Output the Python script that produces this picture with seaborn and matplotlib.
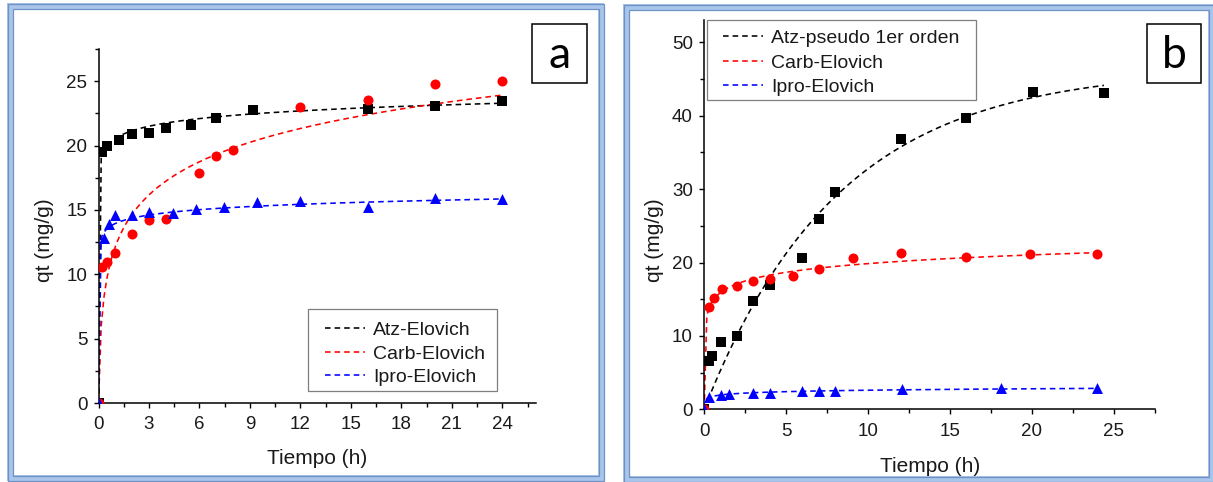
import numpy as np
import pandas as pd
import matplotlib
matplotlib.use("Agg")
import matplotlib.pyplot as plt
import seaborn as sns
from matplotlib.patches import Rectangle
from matplotlib.ticker import MultipleLocator

# ---------------- Panel a: measured adsorption (qt, mg/g) vs time (h) ----------------
a_atz_t = [0, 0.2, 0.5, 1.2, 2.0, 3.0, 4.0, 5.5, 7.0, 9.2, 16.0, 20.0, 24.0]
a_atz_q = [0, 19.5, 20.0, 20.4, 20.9, 21.0, 21.35, 21.6, 22.15, 22.8, 22.85, 23.05, 23.45]

a_carb_t = [0, 0.2, 0.5, 1.0, 2.0, 3.0, 4.0, 6.0, 7.0, 8.0, 12.0, 16.0, 20.0, 24.0]
a_carb_q = [0, 10.6, 10.95, 11.65, 13.1, 14.25, 14.3, 17.85, 19.2, 19.65, 23.0, 23.5, 24.75, 25.05]

a_ipro_t = [0, 0.33, 0.63, 1.0, 2.0, 3.0, 4.4, 5.8, 7.45, 9.4, 12.0, 16.0, 20.0, 24.0]
a_ipro_q = [0, 12.85, 13.9, 14.6, 14.6, 14.8, 14.75, 15.05, 15.2, 15.6, 15.7, 15.25, 15.95, 15.85]

# ---------------- Panel b ----------------
b_atz_t = [0, 0.27, 0.5, 1.0, 2.0, 3.0, 4.0, 6.0, 7.0, 8.0, 12.0, 16.0, 20.1, 24.4]
b_atz_q = [0, 6.6, 7.3, 9.2, 10.0, 14.75, 17.0, 20.55, 25.95, 29.55, 36.8, 39.75, 43.25, 43.05]

b_carb_t = [0, 0.27, 0.57, 1.08, 2.0, 3.0, 4.0, 5.4, 7.0, 9.1, 12.0, 16.0, 19.9, 24.0]
b_carb_q = [0, 13.9, 15.2, 16.4, 16.85, 17.45, 17.8, 18.15, 19.1, 20.55, 21.3, 20.7, 21.15, 21.15]

b_ipro_t = [0, 0.27, 1.0, 1.53, 3.0, 4.0, 6.0, 7.0, 8.0, 12.1, 18.1, 24.0]
b_ipro_q = [0, 1.72, 2.0, 2.1, 2.2, 2.27, 2.45, 2.45, 2.5, 2.8, 2.95, 2.95]

# Kinetic model parameters: Elovich (1/beta, alpha*beta) and pseudo-first order (qe, k1)
elovich_a_atz = (0.86, 2.4e10)
elovich_a_carb = (3.75, 24.5)
elovich_a_ipro = (0.60, 1.24e10)
pfo_b_atz = (46.5, 0.122)
elovich_b_carb = (1.71, 11000.0)
elovich_b_ipro = (0.283, 982.0)

legend_a = ["Atz-Elovich", "Carb-Elovich", "Ipro-Elovich"]
legend_b = ["Atz-pseudo 1er orden", "Carb-Elovich", "Ipro-Elovich"]
x_label = "Tiempo (h)"
y_label = "qt (mg/g)"


def elovich(t, params):
    inv_beta, ab = params
    return inv_beta * np.log1p(ab * t)


def pseudo_first(t, params):
    qe, k1 = params
    return qe * (1.0 - np.exp(-k1 * t))


sns.set_theme(style="ticks")
plt.rcParams["font.family"] = ["Liberation Sans", "DejaVu Sans"]

W, H = 1213, 482
fig = plt.figure(figsize=(W / 100, H / 100), dpi=100)
fig.patch.set_facecolor("white")


def fx(px):
    return px / W


def fy(py):
    return 1 - py / H


COLORS = ["#000000", "#FF0000", "#0000FF"]
DASH = (0, (3.5, 2.5))
LW = 1.15
TXT = "#1a1a1a"


def style_axes(ax, xmax, ymax, xmajor, xminor, ymajor, yminor):
    ax.set_xlim(0, xmax)
    ax.set_ylim(0, ymax)
    ax.xaxis.set_major_locator(MultipleLocator(xmajor))
    ax.xaxis.set_minor_locator(MultipleLocator(xminor))
    ax.yaxis.set_major_locator(MultipleLocator(ymajor))
    ax.yaxis.set_minor_locator(MultipleLocator(yminor))
    sns.despine(ax=ax)
    for s in ("left", "bottom"):
        ax.spines[s].set_linewidth(1.1)
        ax.spines[s].set_color("black")
    ax.tick_params(which="major", direction="out", length=3.6, width=1.0,
                   color="black", labelsize=13.5, labelcolor=TXT)
    ax.tick_params(which="minor", direction="out", length=2.6, width=1.0, color="black")
    ax.tick_params(axis="x", which="major", pad=6)
    ax.tick_params(axis="y", which="major", pad=4.5)
    ax.set_facecolor("white")
    ax.grid(False)


def draw_series(ax, t, q, tfit, qfit, color, marker, size, label):
    sns.lineplot(x=tfit, y=qfit, ax=ax, color=color, lw=LW, linestyle=DASH,
                 label=label, sort=False, estimator=None, legend=False)
    sns.scatterplot(x=t, y=q, ax=ax, color=color, marker=marker, s=size,
                    edgecolor=color, linewidth=0, legend=False, zorder=3)


# ---------------- Panel a ----------------
ax_a = fig.add_axes([fx(98.5), fy(403), fx(536) - fx(98.5), fy(49) - fy(403)])
ta = np.linspace(0, 24, 151)
draw_series(ax_a, a_atz_t, a_atz_q, ta, elovich(ta, elovich_a_atz), COLORS[0], "s", 42, legend_a[0])
draw_series(ax_a, a_carb_t, a_carb_q, ta, elovich(ta, elovich_a_carb), COLORS[1], "o", 52, legend_a[1])
draw_series(ax_a, a_ipro_t, a_ipro_q, ta, elovich(ta, elovich_a_ipro), COLORS[2], "^", 62, legend_a[2])
style_axes(ax_a, 26, 27.5, 3, 1.5, 5, 2.5)

# ---------------- Panel b ----------------
b_top = 53
ax_b = fig.add_axes([fx(704.2), fy(409.3), fx(1154.7) - fx(704.2), (b_top * 7.34) / H])
tb_long = np.linspace(0, 24.4, 153)
tb = np.linspace(0, 24, 151)
draw_series(ax_b, b_atz_t, b_atz_q, tb_long, pseudo_first(tb_long, pfo_b_atz), COLORS[0], "s", 42, legend_b[0])
draw_series(ax_b, b_carb_t, b_carb_q, tb, elovich(tb, elovich_b_carb), COLORS[1], "o", 52, legend_b[1])
draw_series(ax_b, b_ipro_t, b_ipro_q, tb, elovich(tb, elovich_b_ipro), COLORS[2], "^", 62, legend_b[2])
style_axes(ax_b, 27.5, b_top, 5, 2.5, 10, 5)

# Axis titles
for ax, xl, yl in ((ax_a, (0.4994, -0.158), (-0.1223, 0.46)),
                   (ax_b, (0.501, -0.148), (-0.111, 0.434))):
    ax.set_xlabel(x_label, fontsize=15, color=TXT)
    ax.set_ylabel(y_label, fontsize=15, color=TXT)
    ax.xaxis.set_label_coords(*xl)
    ax.yaxis.set_label_coords(*yl)
    ax.xaxis.label.set_va("center")
    ax.yaxis.label.set_va("center")


# Legends: frameless entries inside a separately drawn grey box
def legend_with_box(ax, labels, box, first_row_y, pitch_px, handle_x):
    x0, y0, x1, y1 = box
    ax.add_patch(Rectangle((fx(x0), fy(y1)), fx(x1 - x0), (y1 - y0) / H,
                           transform=fig.transFigure, facecolor="white",
                           edgecolor="#7f7f7f", lw=0.9, zorder=4, clip_on=False))
    fs = 14
    fs_px = fs * 100 / 72
    handles = list(ax.get_lines())[:3]
    row_h = 17.8
    spacing = (pitch_px - row_h) / fs_px
    leg = ax.legend(handles, labels, loc="upper left",
                    bbox_to_anchor=(fx(handle_x), fy(first_row_y - row_h / 2 + 2.5)),
                    bbox_transform=fig.transFigure, fontsize=fs, frameon=False,
                    borderaxespad=0, borderpad=0, labelspacing=spacing,
                    handlelength=40 / fs_px, handletextpad=8 / fs_px)
    leg.set_zorder(6)
    for txt in leg.get_texts():
        txt.set_color(TXT)


legend_with_box(ax_a, legend_a, (308, 309, 497, 391), 328, 23.5, 325)
legend_with_box(ax_b, legend_b, (707, 20, 976, 100), 36, 24.5, 723)


# Panel frames (light blue band with darker edges)
def frame(x0, y0, x1, y1):
    fig.patches.append(Rectangle((fx(x0 + 3), fy(y1 - 3)), fx(x1 - x0 - 6), (y1 - y0 - 6) / H,
                                 transform=fig.transFigure, fill=False, lw=4.3,
                                 edgecolor="#A9C5EA", zorder=0))
    for d in (0.5, 5.5):
        fig.patches.append(Rectangle((fx(x0 + d), fy(y1 - d)), fx(x1 - x0 - 2 * d), (y1 - y0 - 2 * d) / H,
                                     transform=fig.transFigure, fill=False, lw=0.9,
                                     edgecolor="#6D93C6", zorder=0))


frame(7, 3, 604, 481)
frame(623, 4, 1214, 482)


# Panel letter boxes
def letter_box(x0, y0, x1, y1, letter):
    fig.patches.append(Rectangle((fx(x0), fy(y1)), fx(x1 - x0), (y1 - y0) / H,
                                 transform=fig.transFigure, fill=True, facecolor="white",
                                 lw=1.1, edgecolor="black", zorder=1))
    fig.text(fx((x0 + x1) / 2), fy((y0 + y1) / 2 + 2), letter, fontsize=32,
             family=["Lato", "DejaVu Sans"], ha="center", va="center", color="black")


letter_box(532, 24, 587, 83, "a")
letter_box(1147, 24, 1201, 83, "b")

fig.savefig("out.png", dpi=100)
